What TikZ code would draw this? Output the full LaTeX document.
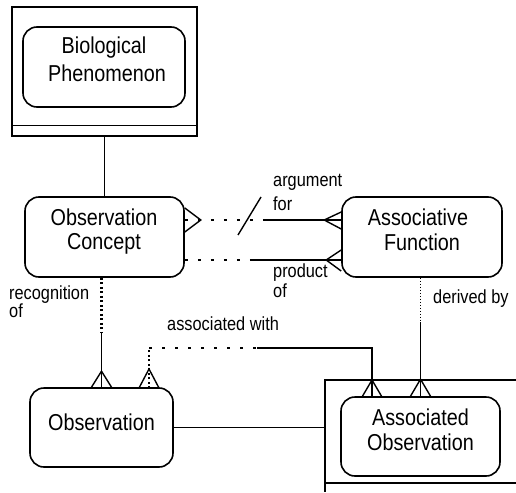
\documentclass[tikz,border=0pt]{standalone}
\usepackage{fontspec}
\setmainfont{Liberation Sans}[FakeStretch=0.86]
\usetikzlibrary{calc}
\begin{document}
\begin{tikzpicture}[x=1pt,y=-1pt,
  rbox/.style={draw, rounded corners=14pt, line width=1.6pt, inner sep=0pt},
  frame/.style={draw, line width=1.5pt, inner sep=0pt},
  mtxt/.style={font=\fontsize{23}{25}\selectfont, anchor=base, inner sep=0pt},
  ltxt/.style={font=\fontsize{19}{21}\selectfont, anchor=base west, inner sep=0pt},
  conn/.style={line width=1.4pt},
  hdot/.style={line width=2.4pt, dash pattern=on 3pt off 10pt},
  vdot/.style={line width=2.4pt, dash pattern=on 2pt off 2.5pt},
  ddot/.style={line width=1.6pt, dash pattern=on 1.5pt off 1.5pt}]
\useasboundingbox (0,0) rectangle (516,492);
% entity frames
\node[frame, minimum width=185pt, minimum height=129pt] (bioent) at (104.5,71.5) {};
\draw[conn] ($(bioent.south west)+(0,-11)$) -- ($(bioent.south east)+(0,-11)$);
\coordinate (aotr) at (516,380);
\coordinate (aotl) at (325,380);
\coordinate (aobl) at (325,492);
\coordinate (aoil) at (325,483);
\coordinate (aoir) at (516,483);
\draw[line width=1.5pt] (aotr) -- (aotl) -- (aobl);
\draw[line width=1.5pt] (aoil) -- (aoir);
% rounded boxes
\node[rbox, minimum width=162pt, minimum height=80pt] (bio) at (104,67) {};
\node[rbox, minimum width=159pt, minimum height=80pt] (oc) at (104.5,237) {};
\node[rbox, minimum width=160pt, minimum height=80pt] (af) at (422,237) {};
\node[rbox, minimum width=143pt, minimum height=79pt] (obs) at (101.5,427.5) {};
\node[rbox, minimum width=159pt, minimum height=79pt] (ao) at (420.5,436.5) {};
% box texts
\node[mtxt] (bio1) at (104,54) {Biological};
\node[mtxt] (bio2) at (107,82) {Phenomenon};
\node[mtxt] (oc1) at (104,225) {Observation};
\node[mtxt] (oc2) at (104,249) {Concept};
\node[mtxt] (af1) at (418,225) {Associative};
\node[mtxt] (af2) at (422,250) {Function};
\node[mtxt] (obs1) at (101.5,430) {Observation};
\node[mtxt] (ao1) at (420.5,425) {Associated};
\node[mtxt] (ao2) at (420.5,450) {Observation};
% labels
\node[ltxt] (l1) at (273,186) {argument};
\node[ltxt] (l2) at (273,210) {for};
\node[ltxt] (l3) at (273,277) {product};
\node[ltxt] (l4) at (273,297) {of};
\node[ltxt] (l5) at (9,299) {recognition};
\node[ltxt] (l6) at (9,317) {of};
\node[ltxt] (l7) at (433,303) {derived by};
\node[ltxt] (l8) at (167,330) {associated with};
% bio -> oc
\draw[conn] (oc.north) -- (oc.north |- bioent.south);
% argument for
\coordinate (argmid) at (263,220);
\draw[hdot] ($(oc.east)+(0,-17)$) -- (argmid);
\draw[conn] (argmid) -- ($(af.west)+(0,-17)$);
\draw[conn] ($(oc.east)+(0,-29)$) -- ($(oc.east)+(16,-17)$) -- ($(oc.east)+(0,-5)$);
\draw[conn] ($(af.west)+(0,-25)$) -- ($(af.west)+(-17,-17)$) -- ($(af.west)+(0,-8)$);
\coordinate (sl1) at (238,235);
\coordinate (sl2) at (261,197);
\draw[conn] (sl1) -- (sl2);
% product of
\coordinate (prmid) at (253,260);
\draw[hdot] ($(oc.east)+(0,23)$) -- (prmid);
\draw[conn] (prmid) -- ($(af.west)+(0,23)$);
\draw[conn] ($(af.west)+(0,13)$) -- ($(af.west)+(-15,23)$) -- ($(af.west)+(0,34)$);
% recognition of
\coordinate (recmid) at (101.5,333);
\draw[vdot] (obs.north |- oc.south) -- (recmid);
\draw[conn] (recmid) -- (obs.north);
\draw[conn] ($(obs.north)+(-10,0)$) -- ($(obs.north)+(0,-16)$) -- ($(obs.north)+(10,0)$);
% associated with
\coordinate (aw1) at (149,388);
\coordinate (aw2) at (149,348);
\coordinate (aw3) at (257,348);
\coordinate (aw4) at (372,348);
\coordinate (aw5) at (372,397);
\draw[vdot] (aw1) -- (aw2);
\draw[hdot] (aw2) -- (aw3);
\draw[conn] (aw3) -- (aw4) -- (aw5);
\draw[conn] ($(aw1)+(-10,0)$) -- ($(aw1)+(0,-19)$) -- ($(aw1)+(10,0)$);
\draw[conn] ($(aw5)+(-10,0)$) -- ($(aw5)+(0,-17)$) -- ($(aw5)+(10,0)$);
% derived by
\coordinate (dbmid) at (420.5,322);
\draw[ddot] (ao.north |- af.south) -- (dbmid);
\draw[conn] (dbmid) -- (ao.north);
\draw[conn] ($(ao.north)+(-10,0)$) -- ($(ao.north)+(0,-17)$) -- ($(ao.north)+(10,0)$);
% observation -- associated observation frame
\draw[conn] (obs.east) -- (obs.east -| aotl);
\end{tikzpicture}
\end{document}
